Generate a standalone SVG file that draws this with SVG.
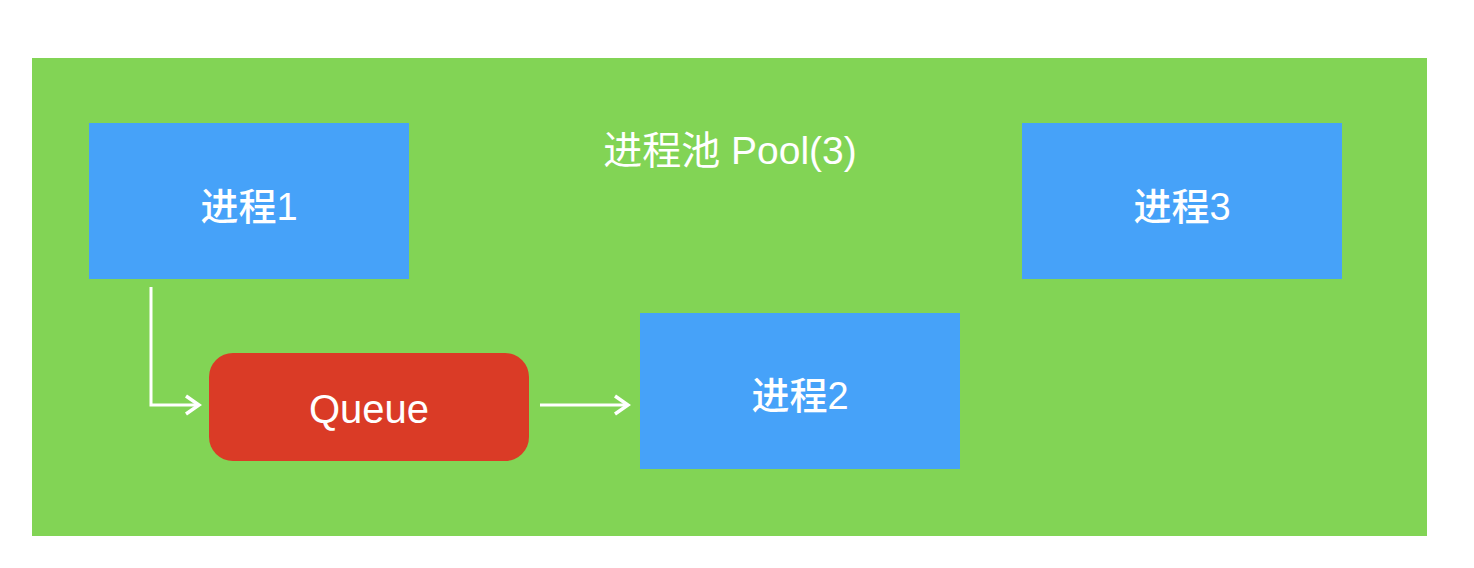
<svg xmlns="http://www.w3.org/2000/svg" width="1474" height="568" viewBox="0 0 1474 568">
<style>
.proc{fill:#46a2f9}
.lbl{fill:#ffffff;font-family:"Liberation Sans","Noto Sans CJK SC",sans-serif;font-size:38px;text-anchor:middle;font-weight:500}
.title{fill:#ffffff;font-family:"Liberation Sans","Noto Sans CJK SC",sans-serif;font-size:39px;text-anchor:middle}
.conn{fill:none;stroke:#ffffff;stroke-width:3}
</style>
<defs>
<marker id="arr" markerWidth="18" markerHeight="22" refX="15" refY="11" orient="auto" markerUnits="userSpaceOnUse">
<path d="M2,2 L15,11 L2,20" fill="none" stroke="#ffffff" stroke-width="3.5"/>
</marker>
</defs>
<rect width="1474" height="568" fill="#ffffff"/>
<g id="pool">
<rect x="32" y="58" width="1395" height="478" fill="#82d455"/>
<text class="title" x="730" y="164">进程池 Pool(3)</text>
</g>
<g id="p1">
<rect class="proc" x="89" y="123" width="320" height="156"/>
<text class="lbl" x="249" y="220">进程1</text>
</g>
<g id="p3">
<rect class="proc" x="1022" y="123" width="320" height="156"/>
<text class="lbl" x="1182" y="220">进程3</text>
</g>
<g id="p2">
<rect class="proc" x="640" y="313" width="320" height="156"/>
<text class="lbl" x="800" y="409">进程2</text>
</g>
<g id="queue">
<rect x="209" y="353" width="320" height="108" rx="24" fill="#da3b26"/>
<text class="lbl" x="369" y="423" style="font-size:40px">Queue</text>
</g>
<g id="connectors">
<path class="conn" d="M151,287 V405 H199" marker-end="url(#arr)"/>
<path class="conn" d="M540,405 H628" marker-end="url(#arr)"/>
</g>
</svg>
